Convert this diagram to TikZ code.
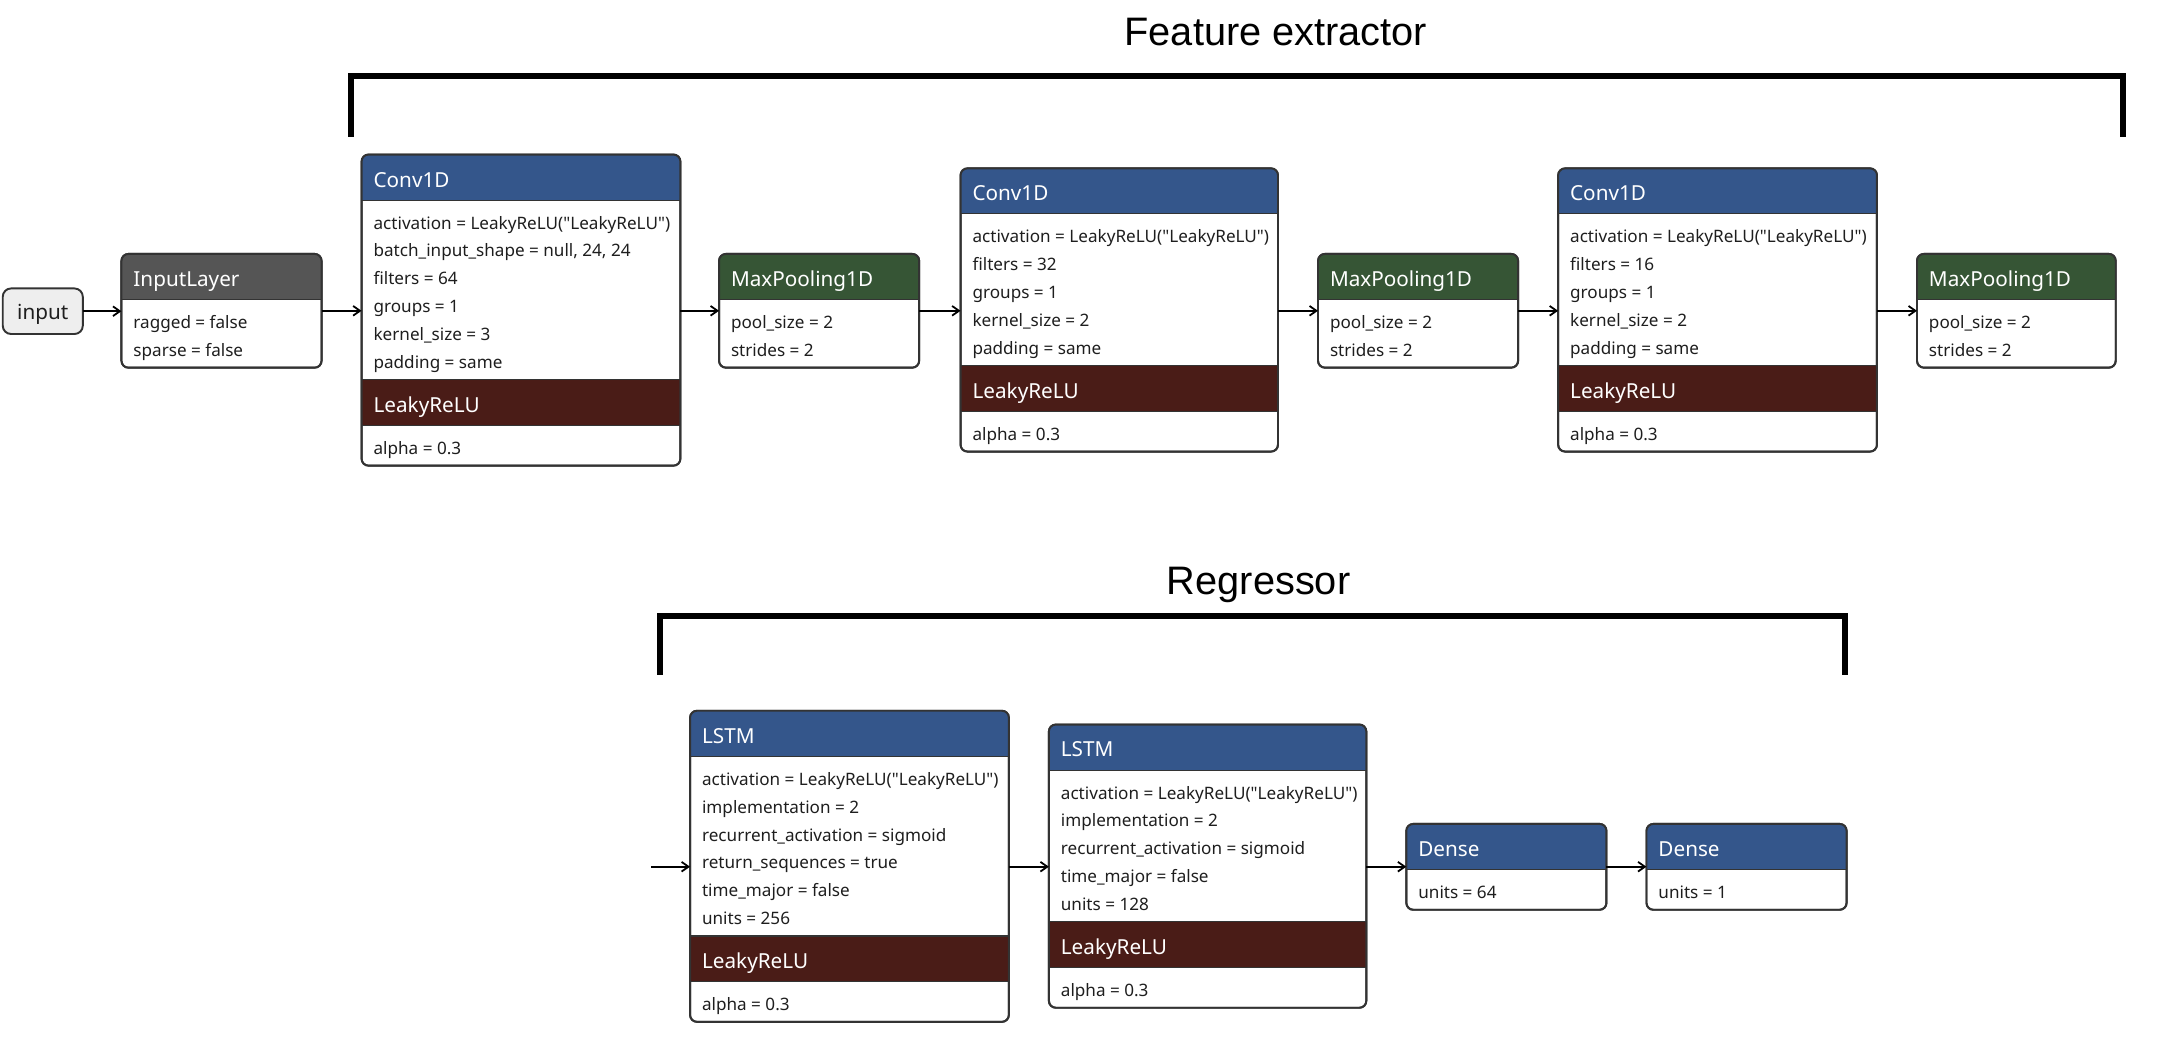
\documentclass[tikz,border=0pt]{standalone}
\usepackage{fontspec}
\setmainfont{Noto Sans}[Ligatures=TeXOff]
\newfontfamily\ttlfamily{Liberation Sans}
\usetikzlibrary{arrows.meta,calc}
\definecolor{hblue}{HTML}{34568B}
\definecolor{hred}{HTML}{4A1C17}
\definecolor{hgreen}{HTML}{365535}
\definecolor{hgray}{HTML}{555555}
\definecolor{bordc}{HTML}{333333}
\definecolor{inpfill}{HTML}{EEEEEE}
\definecolor{txtc}{HTML}{1E1E1E}
\newcommand{\myBody}{\fontsize{12.4}{14}\selectfont}
\newcommand{\myHead}{\fontsize{15}{17}\selectfont}
\newcommand{\myTitle}{\ttlfamily\fontsize{28.8}{32}\selectfont}
\newcommand{\dq}{\char34\relax}
\newcommand{\actline}{activation = LeakyReLU(\dq LeakyReLU\dq)}
\tikzset{
  frame/.style={draw=bordc, line width=1.4pt, rounded corners=5pt, fill=white, inner sep=0pt, outer sep=0pt, anchor=north west},
  sepline/.style={draw=bordc, line width=0.8pt},
  hdtext/.style={text=white, font=\myHead, anchor=base west, inner sep=0pt},
  bodytext/.style={text=txtc, font=\myBody, anchor=base west, inner sep=0pt},
  conn/.style={-{Straight Barb[length=5pt,width=7pt]}, line width=1.3pt, black},
  bracket/.style={line width=4.3pt, black, line join=miter, line cap=butt},
  ttl/.style={font=\myTitle, anchor=base, inner sep=0pt, text=black},
}
% #1 name, #2 x, #3 y, #4 width, #5 header colour, #6 title, #7 lines, #8 band title, #9 band lines
\newcommand{\LayerBox}[9]{%
  \foreach \lineText [count=\lineNo] in {#7} {\xdef\nA{\lineNo}}%
  \pgfmathsetmacro{\secA}{9+20.2*\nA}%
  \def\tmpB{#8}%
  \ifx\tmpB\empty
    \pgfmathsetmacro{\tot}{33+\secA}%
  \else
    \foreach \lineText [count=\lineNo] in {#9} {\xdef\nB{\lineNo}}%
    \pgfmathsetmacro{\secB}{9+20.2*\nB}%
    \pgfmathsetmacro{\tot}{33+\secA+33+\secB}%
  \fi
  \node[frame, minimum width=#4pt, minimum height=\tot pt] (#1) at (#2,#3) {};
  \begin{scope}
    \clip[rounded corners=5pt] (#1.north west) rectangle (#1.south east);
    \fill[#5] (#1.north west) rectangle ($(#1.north east)+(0,33)$);
    \draw[sepline] ($(#1.north west)+(0,33)$) -- ($(#1.north east)+(0,33)$);
    \ifx\tmpB\empty\else
      \fill[hred] ($(#1.north west)+(0,{33+\secA})$) rectangle ($(#1.north east)+(0,{66+\secA})$);
      \draw[sepline] ($(#1.north west)+(0,{33+\secA})$) -- ($(#1.north east)+(0,{33+\secA})$);
      \draw[sepline] ($(#1.north west)+(0,{66+\secA})$) -- ($(#1.north east)+(0,{66+\secA})$);
    \fi
  \end{scope}
  \draw[draw=bordc, line width=1.4pt, rounded corners=5pt] (#1.north west) rectangle (#1.south east);
  \node[hdtext] (#1-h) at ($(#1.north west)+(8.5,23.5)$) {#6};
  \foreach \lineText [count=\lineNo] in {#7} {
    \node[bodytext] (#1-a\lineNo) at ($(#1.north west)+(8.5,{54+20.2*(\lineNo-1)})$) {\lineText};
  }
  \ifx\tmpB\empty\else
    \node[hdtext] (#1-b) at ($(#1.north west)+(8.5,{33+\secA+23.5})$) {#8};
    \foreach \lineText [count=\lineNo] in {#9} {
      \node[bodytext] (#1-c\lineNo) at ($(#1.north west)+(8.5,{87+\secA+20.2*(\lineNo-1)})$) {\lineText};
    }
  \fi
}
\begin{document}
\begin{tikzpicture}[x=1pt,y=-1pt]
\fill[white] (0,0) rectangle (1568,755);
\useasboundingbox (0,0) rectangle (1568,755);

% titles and brackets
\node[ttl] (fe) at (924.5,33) {Feature extractor};
\draw[bracket] (254,99) -- (254,55) -- (1538,55) -- (1538,99);
\node[ttl] (rg) at (912,431) {Regressor};
\draw[bracket] (478,489) -- (478,446) -- (1337,446) -- (1337,489);

% input
\node[draw=bordc, line width=1.4pt, fill=inpfill, rounded corners=6pt, minimum width=58pt, minimum height=33pt, inner sep=0pt, outer sep=0pt, anchor=north west] (inp) at (2,209) {};
\node[font=\myHead, anchor=base, inner sep=0pt, text=txtc] (inpt) at ($(inp.center)+(0,6)$) {input};

% top row
\LayerBox{il}{88}{184}{145}{hgray}{InputLayer}{{ragged = false},{sparse = false}}{}{}
\LayerBox{c1}{262}{112}{231}{hblue}{Conv1D}{{\actline},{batch\_input\_shape = null, 24, 24},{filters = 64},{groups = 1},{kernel\_size = 3},{padding = same}}{LeakyReLU}{{alpha = 0.3}}
\LayerBox{m1}{521}{184}{145}{hgreen}{MaxPooling1D}{{pool\_size = 2},{strides = 2}}{}{}
\LayerBox{c2}{696}{122}{230}{hblue}{Conv1D}{{\actline},{filters = 32},{groups = 1},{kernel\_size = 2},{padding = same}}{LeakyReLU}{{alpha = 0.3}}
\LayerBox{m2}{955}{184}{145}{hgreen}{MaxPooling1D}{{pool\_size = 2},{strides = 2}}{}{}
\LayerBox{c3}{1129}{122}{231}{hblue}{Conv1D}{{\actline},{filters = 16},{groups = 1},{kernel\_size = 2},{padding = same}}{LeakyReLU}{{alpha = 0.3}}
\LayerBox{m3}{1389}{184}{144}{hgreen}{MaxPooling1D}{{pool\_size = 2},{strides = 2}}{}{}

% bottom row
\LayerBox{l1}{500}{515}{231}{hblue}{LSTM}{{\actline},{implementation = 2},{recurrent\_activation = sigmoid},{return\_sequences = true},{time\_major = false},{units = 256}}{LeakyReLU}{{alpha = 0.3}}
\LayerBox{l2}{760}{525}{230}{hblue}{LSTM}{{\actline},{implementation = 2},{recurrent\_activation = sigmoid},{time\_major = false},{units = 128}}{LeakyReLU}{{alpha = 0.3}}
\LayerBox{d1}{1019}{597}{145}{hblue}{Dense}{{units = 64}}{}{}
\LayerBox{d2}{1193}{597}{145}{hblue}{Dense}{{units = 1}}{}{}

% connectors
\draw[conn] (inp.east) -- (inp.east -| il.west);
\draw[conn] (il.east) -- (il.east -| c1.west);
\draw[conn] (c1.east |- il.east) -- (il.east -| m1.west);
\draw[conn] (m1.east) -- (m1.east -| c2.west);
\draw[conn] (c2.east |- m1.east) -- (m1.east -| m2.west);
\draw[conn] (m2.east) -- (m2.east -| c3.west);
\draw[conn] (c3.east |- m2.east) -- (m2.east -| m3.west);
\coordinate (lin) at (472,628);
\draw[conn] (lin) -- (lin -| l1.west);
\draw[conn] (l1.east |- lin) -- (lin -| l2.west);
\draw[conn] (l2.east |- lin) -- (lin -| d1.west);
\draw[conn] (d1.east |- lin) -- (lin -| d2.west);
\end{tikzpicture}
\end{document}
